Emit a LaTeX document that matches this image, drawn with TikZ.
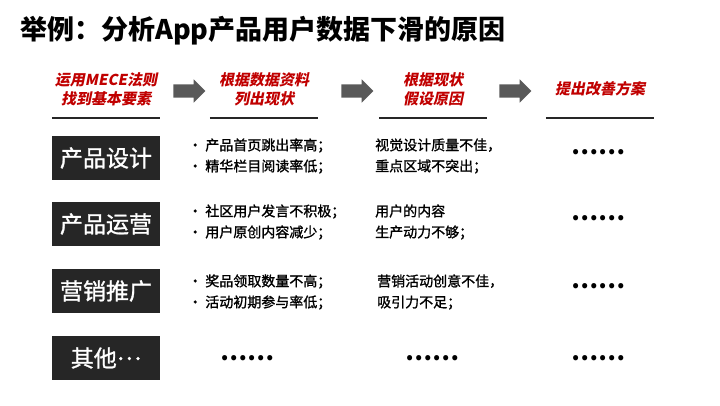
\documentclass[tikz,border=0pt]{standalone}
\usepackage{fontspec}
\setmainfont{Noto Sans CJK SC}
\newfontfamily\slantfont[FakeSlant=0.2]{Noto Sans CJK SC}
\newfontfamily\midfont[FakeBold=1.2]{Noto Sans CJK SC}
\usepackage{tikz}
\usetikzlibrary{shapes,arrows}
\definecolor{boxgray}{RGB}{38,38,38}
\definecolor{headred}{RGB}{192,0,0}
\definecolor{arrowgray}{RGB}{89,89,89}

\begin{document}
\begin{tikzpicture}[x=1pt,y=-1pt]
	\tikzstyle{Title}	= [anchor=west, inner sep=0pt, font=\bfseries\fontsize{27}{27}\selectfont]
	\tikzstyle{Head}	= [text=headred, font=\slantfont\bfseries\fontsize{15}{19}\selectfont, align=center, minimum width=108pt, minimum height=58pt, inner sep=0pt]
	\tikzstyle{Rule}	= [line width=2pt, boxgray]
	\tikzstyle{Flow}	= [single arrow, fill=arrowgray, minimum height=32pt, single arrow head extend=5pt, inner sep=6.5pt]
	\tikzstyle{Factor}	= [fill=boxgray, text=white, font=\midfont\fontsize{23}{23}\selectfont, minimum width=108pt, minimum height=44pt, inner sep=0pt]
	\tikzstyle{Item}	= [anchor=west, align=left, inner sep=0pt, font=\midfont\fontsize{14}{21}\selectfont]
	\tikzstyle{More}	= [inner sep=0pt, font=\bfseries\fontsize{24}{24}\selectfont]

	\useasboundingbox (0,0) rectangle (720,405);

	\node (title) at (20,31) [Title] {举例：分析App产品用户数据下滑的原因};

	% header row
	\node (h1) at (106,89) [Head] {运用MECE法则\\找到基本要素};
	\node (h2) at (264,89) [Head] {根据数据资料\\列出现状};
	\node (h3) at (433,89) [Head] {根据现状\\假设原因};
	\node (h4) at (600,89) [Head] {提出改善方案};

	\node (a1) at (186,91) [Flow] {};
	\node (a2) at (354,91) [Flow] {};
	\node (a3) at (512,91) [Flow] {};

	\draw [-] (h1.south west) to (h1.south east) [Rule];
	\draw [-] (h2.south west) to (h2.south east) [Rule];
	\draw [-] (h3.south west) to (h3.south east) [Rule];
	\draw [-] (h4.south west) to (h4.south east) [Rule];

	% rows
	\node (f1) at (106,158) [Factor] {产品设计};
	\node (f2) at (106,224) [Factor] {产品运营};
	\node (f3) at (106,291) [Factor] {营销推广};
	\node (f4) at (106,358) [Factor] {其他\raisebox{0.3em}{…}};

	\node (s1) at (188,156) [Item] {\textbullet\ 产品首页跳出率高；\\\textbullet\ 精华栏目阅读率低；};
	\node (s2) at (188,222) [Item] {\textbullet\ 社区用户发言不积极；\\\textbullet\ 用户原创内容减少；};
	\node (s3) at (188,292) [Item] {\textbullet\ 奖品领取数量不高；\\\textbullet\ 活动初期参与率低；};
	\node (s4) at (247,358) [More] {……};

	\node (c1) at (375,156) [Item] {视觉设计质量不佳，\\重点区域不突出；};
	\node (c2) at (375,222) [Item] {用户的内容\\生产动力不够；};
	\node (c3) at (377,292) [Item] {营销活动创意不佳，\\吸引力不足；};
	\node (c4) at (432,358) [More] {……};

	\node (p1) at (598,152) [More] {……};
	\node (p2) at (598,218) [More] {……};
	\node (p3) at (598,286) [More] {……};
	\node (p4) at (598,358) [More] {……};
\end{tikzpicture}
\end{document}
